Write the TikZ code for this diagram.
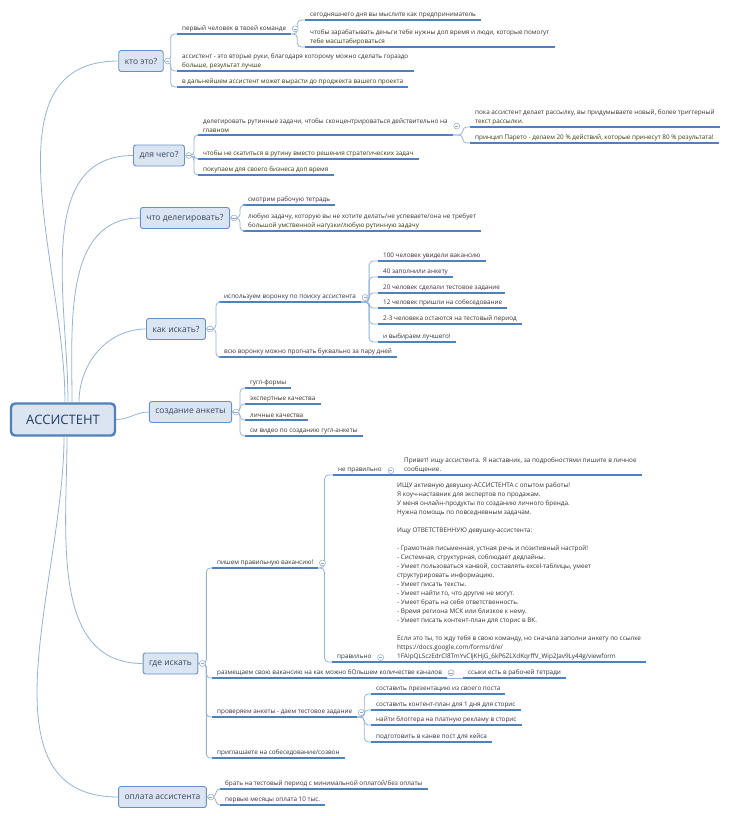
\documentclass[tikz,border=0pt]{standalone}
\usepackage{fontspec}
\setmainfont{Open Sans}
\usetikzlibrary{positioning}
\definecolor{boxfill}{HTML}{DBE5F1}
\definecolor{rootline}{HTML}{4F81BD}
\definecolor{topicline}{HTML}{6690C8}
\definecolor{roottext}{HTML}{1F3D66}
\definecolor{topictext}{HTML}{34465E}
\definecolor{leaftext}{HTML}{333333}
\definecolor{ulinecol}{HTML}{4F81BD}
\definecolor{conncol}{HTML}{95B3D7}
\definecolor{foldcol}{HTML}{8EA9C8}

\begin{document}
\begin{tikzpicture}[x=1pt, y=-1pt,
  root/.style={draw=rootline, line width=2.4pt, fill=boxfill, rounded corners=4pt,
               minimum width=104pt, minimum height=32pt,
               font=\fontsize{13}{15}\selectfont, text=roottext},
  topic/.style={draw=topicline, line width=0.9pt, fill=boxfill, rounded corners=2.5pt,
                minimum height=21pt, inner xsep=6pt,
                font=\fontsize{8.5}{10}\selectfont, text=topictext},
  leaf/.style={anchor=south west, inner xsep=5pt, inner ysep=1.8pt, align=left,
               font=\fontsize{6.35}{9}\selectfont, text=leaftext,
               append after command={(\tikzlastnode.south west) edge[uline] (\tikzlastnode.south east)}},
  uline/.style={draw=ulinecol, line width=1.2pt},
  branch/.style={draw=conncol, line width=0.8pt},
  spine/.style={draw=conncol, line width=0.8pt, rounded corners=4pt},
  fold/.style={circle, draw=foldcol, fill=white, line width=0.5pt, minimum size=6pt, inner sep=0pt,
               path picture={\draw[foldcol, line width=0.5pt]
                 ([xshift=-1.6pt]path picture bounding box.center) --
                 ([xshift=1.6pt]path picture bounding box.center);}}
]
\fill[white] (0,0) rectangle (732,816);
\useasboundingbox (0,0) rectangle (732,816);

% centre and topics
\node[root] (root) at (63,419.5) {АССИСТЕНТ};
\node[topic] (kto) at (141,61) {кто это?};
\node[topic] (dlya) at (159,155.5) {для чего?};
\node[topic] (chto) at (185,218) {что делегировать?};
\node[topic] (kak) at (176,329) {как искать?};
\node[topic] (anketa) at (190.5,412) {создание анкеты};
\node[topic] (gde) at (170.5,663.5) {где искать};
\node[topic] (opl) at (162.5,797) {оплата ассистента};

\draw[branch] ([xshift=2pt]root.north) to[out=90,in=180] (kto.west);
\draw[branch] ([xshift=5pt]root.north) to[out=90,in=180] (dlya.west);
\draw[branch] ([xshift=9pt]root.north) to[out=90,in=180] (chto.west);
\draw[branch] ([xshift=16pt]root.north) to[out=90,in=180] (kak.west);
\draw[branch] (root.east) to[out=0,in=180] (anketa.west);
\draw[branch] ([xshift=4pt]root.south) to[out=-90,in=180] (gde.west);
\draw[branch] ([xshift=1pt]root.south) to[out=-90,in=180] (opl.west);

% кто это?
\node[leaf] (w1) at (177,34) {первый человек в твоей команде};
\node[leaf] (w1a) at (305,20) {сегодняшнего дня вы мыслите как предприниматель};
\node[leaf] (w1b) at (305,47) {чтобы зарабатывать деньги тебе нужны доп время и люди, которые помогут\\тебе масштабироваться};
\node[leaf] (w2) at (177,71) {ассистент - это вторые руки, благодаря которому можно сделать гораздо\\больше, результат лучше};
\node[leaf] (w3) at (177,87) {в дальнейшем ассистент может вырасти до проджекта вашего проекта};

% для чего?
\node[leaf] (d1) at (198,135) {делегировать рутинные задачи, чтобы сконцентрироваться действительно на\\главном};
\node[leaf] (d1a) at (470,127) {пока ассистент делает рассылку, вы придумываете новый, более триггерный\\текст рассылки.};
\node[leaf] (d1b) at (470,143) {принцип Парето - делаем 20 \% действий, которые принесут 80 \% результата!};
\node[leaf] (d2) at (198,159) {чтобы не скатиться в рутину вместо решения стратегических задач};
\node[leaf] (d3) at (198,175) {покупаем для своего бизнеса доп время};

% что делегировать?
\node[leaf] (c1) at (243,205) {смотрим рабочую тетрадь};
\node[leaf] (c2) at (243,231) {любую задачу, которую вы не хотите делать/не успеваете/она не требует\\большой умственной нагузки/любую рутинную задачу};

% как искать?
\node[leaf] (k1) at (219,302) {используем воронку по поиску ассистента};
\node[leaf] (k1a) at (378,261) {100 человек увидели вакансию};
\node[leaf] (k1b) at (378,277) {40 заполнили анкету};
\node[leaf] (k1c) at (378,293) {20 человек сделали тестовое задание};
\node[leaf] (k1d) at (378,308) {12 человек пришли на собеседование};
\node[leaf] (k1e) at (378,324) {2-3 человека остаются на тестовый период};
\node[leaf] (k1f) at (378,342) {и выбираем лучшего!};
\node[leaf] (k2) at (219,357) {всю воронку можно прогнать буквально за пару дней};

% создание анкеты
\node[leaf] (a1) at (245,388) {гугл-формы};
\node[leaf] (a2) at (245,404) {экспертные качества};
\node[leaf] (a3) at (245,420) {личные качества};
\node[leaf] (a4) at (245,436) {см видео по созданию гугл-анкеты};

% где искать
\node[leaf] (g1) at (212,568) {пишем правильную вакансию!};
\node[leaf] (bad) at (333,475) {не правильно};
\node[leaf] (badt) at (399,475) {Привет! ищу ассистента. Я наставник, за подробностями пишите в личное\\сообщение.};
\node[leaf] (good) at (332,662) {правильно};
\node[leaf] (goodt) at (392,662) {ИЩУ активную девушку-АССИСТЕНТА с опытом работы!\\
Я коуч-наставник для экспертов по продажам.\\
У меня онлайн-продукты по созданию личного бренда.\\
Нужна помощь по повседневным задачам.\\[9pt]
Ищу ОТВЕТСТВЕННУЮ девушку-ассистента:\\[9pt]
- Грамотная письменная, устная речь и позитивный настрой!\\
- Системная, структурная, соблюдает дедлайны.\\
- Умеет пользоваться канвой, составлять excel-таблицы, умеет\\
структурировать информацию.\\
- Умеет писать тексты.\\
- Умеет найти то, что другие не могут.\\
- Умеет брать на себя ответственность.\\
- Время региона МСК или близкое к нему.\\
- Умеет писать контент-план для сторис в ВК.\\[9pt]
Если это ты, то жду тебя в свою команду, но сначала заполни анкету по ссылке\\
https://docs.google.com/forms/d/e/\\
1FAIpQLSczEdrCl8TmYvCljKHjG\_6kP6ZLXdKqrffV\_Wip2Jav9Ly44g/viewform};
\node[leaf] (g2) at (212,678) {размещаем свою вакансию на как можно бОльшем количестве каналов};
\node[leaf] (g2a) at (463,678) {ссыки есть в рабочей тетради};
\node[leaf] (g3) at (212,717) {проверяем анкеты - даем тестовое задание};
\node[leaf] (g3a) at (371,694) {составить презентацию из своего поста};
\node[leaf] (g3b) at (371,710) {составить контент-план для 1 дня для сторис};
\node[leaf] (g3c) at (371,725) {найти блоггера на платную рекламу в сторис};
\node[leaf] (g3d) at (371,742) {подготовить в канве пост для кейса};
\node[leaf] (g4) at (212,758) {приглашаете на собеседование/созвон};

% оплата ассистента
\node[leaf] (o1) at (220,789) {брать на тестовый период с минимальной оплатой/без оплаты};
\node[leaf] (o2) at (220,805) {первые месяцы оплата 10 тыс.};

% connectors
\foreach \c in {w1,w2,w3} \draw[spine] (kto.east) -- ++(7,0) |- (\c.south west);
\foreach \c in {w1a,w1b} \draw[spine] (w1.south east) -- ++(6,0) |- (\c.south west);
\foreach \c in {d1,d2,d3} \draw[spine] (dlya.east) -- ++(9,0) |- (\c.south west);
\foreach \c in {d1a,d1b} \draw[spine] (d1.south east) -- ++(10,0) |- (\c.south west);
\foreach \c in {c1,c2} \draw[spine] (chto.east) -- ++(10,0) |- (\c.south west);
\foreach \c in {k1,k2} \draw[spine] (kak.east) -- ++(10,0) |- (\c.south west);
\foreach \c in {k1a,k1b,k1c,k1d,k1e,k1f} \draw[spine] (k1.south east) -- ++(8,0) |- (\c.south west);
\foreach \c in {a1,a2,a3,a4} \draw[spine] (anketa.east) -- ++(8,0) |- (\c.south west);
\foreach \c in {g1,g2,g3,g4} \draw[spine] (gde.east) -- ++(8,0) |- (\c.south west);
\foreach \c in {bad,good} \draw[spine] (g1.south east) -- ++(6,0) |- (\c.south west);
\draw[uline] (bad.south east) -- (badt.south west);
\draw[uline] (good.south east) -- (goodt.south west);
\draw[spine] (g2.south east) -- (g2a.south west);
\foreach \c in {g3a,g3b,g3c,g3d} \draw[spine] (g3.south east) -- ++(7,0) |- (\c.south west);
\foreach \c in {o1,o2} \draw[spine] (opl.east) -- ++(9,0) |- (\c.south west);

% fold markers
\foreach \t/\f in {kto/fk,dlya/fd,chto/fc,kak/fa,anketa/fn,gde/fg,opl/fo}
  \node[fold] (\f) at ([xshift=4pt]\t.east) {};
\foreach \t/\f in {w1/fw1,d1/fd1,k1/fk1,g1/fg1,bad/fb,good/fgd,g2/fg2,g3/fg3}
  \node[fold] (\f) at ([xshift=4pt]\t.east) {};
\end{tikzpicture}
\end{document}
